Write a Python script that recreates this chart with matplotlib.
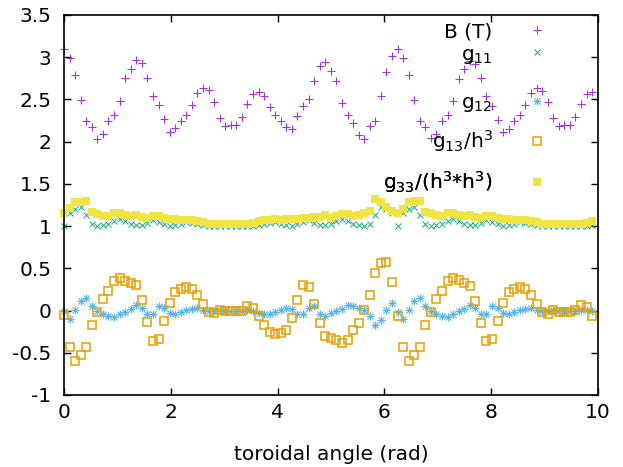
import numpy as np
import matplotlib
matplotlib.use('Agg')
import matplotlib.pyplot as plt

# sample index -> toroidal angle (96 samples, ~0.104 rad apart)
n_pts = 96
step = 0.1041
angle = np.arange(n_pts) * step

B = [3.10, 2.99, 2.79, 2.49, 2.24, 2.17, 2.03, 2.09, 2.24, 2.32,
     2.48, 2.75, 2.86, 2.97, 2.93, 2.75, 2.54, 2.43, 2.27, 2.12,
     2.16, 2.25, 2.32, 2.43, 2.58, 2.64, 2.61, 2.47, 2.28, 2.19,
     2.20, 2.20, 2.29, 2.45, 2.57, 2.59, 2.54, 2.41, 2.32, 2.25,
     2.17, 2.15, 2.30, 2.42, 2.50, 2.72, 2.90, 2.94, 2.84, 2.72,
     2.46, 2.32, 2.22, 2.08, 2.03, 2.19, 2.24, 2.54, 2.82, 3.02,
     3.10, 2.99, 2.79, 2.49, 2.24, 2.17, 2.04, 2.09, 2.24, 2.32,
     2.48, 2.74, 2.86, 2.96, 2.92, 2.75, 2.54, 2.42, 2.26, 2.12,
     2.15, 2.25, 2.32, 2.43, 2.58, 2.64, 2.60, 2.47, 2.28, 2.19,
     2.20, 2.20, 2.29, 2.45, 2.57, 2.59]

g11 = [1.00, 1.15, 1.20, 1.23, 1.13, 1.03, 1.00, 1.01, 1.03, 1.06,
       1.08, 1.06, 1.03, 1.01, 1.01, 1.04, 1.07, 1.05, 1.02, 1.00,
       1.01, 1.03, 1.05, 1.04, 1.03, 1.01, 1.00, 1.00, 1.00, 1.00,
       1.00, 1.00, 1.00, 1.00, 1.00, 1.01, 1.03, 1.04, 1.05, 1.03,
       1.01, 1.00, 1.02, 1.05, 1.07, 1.04, 1.01, 1.01, 1.03, 1.06,
       1.08, 1.06, 1.03, 1.01, 1.00, 1.03, 1.13, 1.23, 1.20, 1.15,
       1.00, 1.15, 1.20, 1.23, 1.13, 1.03, 1.00, 1.01, 1.03, 1.06,
       1.08, 1.06, 1.03, 1.01, 1.01, 1.04, 1.07, 1.05, 1.02, 1.00,
       1.01, 1.03, 1.05, 1.04, 1.03, 1.01, 1.00, 1.00, 1.00, 1.00,
       1.00, 1.00, 1.00, 1.00, 1.00, 1.01]

g12 = [-0.010, -0.095, 0.012, 0.115, 0.150, 0.055, -0.008, -0.043, -0.063, -0.071,
       -0.043, -0.016, 0.016, 0.063, 0.036, -0.043, -0.043, 0.050, 0.036, -0.028,
       -0.043, -0.020, 0.004, 0.024, 0.036, 0.012, -0.008, -0.004, 0.004, -0.004,
       -0.004, -0.004, -0.004, 0.004, -0.008, -0.028, -0.043, -0.036, -0.020, 0.012,
       0.036, 0.016, -0.036, -0.036, 0.036, 0.050, -0.043, -0.067, -0.028, -0.004,
       0.024, 0.063, 0.050, 0.036, 0.004, -0.063, -0.170, -0.115, 0.012, 0.095,
       -0.016, -0.100, 0.004, 0.110, 0.150, 0.055, -0.008, -0.043, -0.063, -0.071,
       -0.043, -0.008, 0.024, 0.071, 0.036, -0.043, -0.043, 0.050, 0.036, -0.028,
       -0.043, -0.020, 0.004, 0.024, 0.036, 0.012, -0.008, -0.004, 0.004, -0.004,
       -0.004, -0.004, -0.004, 0.004, 0.004, -0.008]

g13 = [-0.055, -0.43, -0.60, -0.53, -0.43, -0.17, -0.016, 0.14, 0.23, 0.35,
       0.38, 0.35, 0.33, 0.30, 0.12, -0.14, -0.36, -0.34, -0.12, 0.095,
       0.225, 0.26, 0.28, 0.26, 0.19, 0.083, -0.016, -0.028, 0.004, -0.008,
       -0.008, -0.008, -0.008, 0.05, 0.036, -0.067, -0.17, -0.25, -0.28, -0.27,
       -0.23, -0.09, 0.13, 0.30, 0.28, 0.075, -0.15, -0.30, -0.32, -0.35,
       -0.38, -0.35, -0.23, -0.15, 0.004, 0.18, 0.45, 0.56, 0.58, 0.34,
       -0.06, -0.43, -0.60, -0.53, -0.43, -0.17, -0.016, 0.14, 0.23, 0.35,
       0.38, 0.36, 0.33, 0.29, 0.11, -0.15, -0.36, -0.34, -0.12, 0.095,
       0.225, 0.26, 0.28, 0.26, 0.19, 0.083, -0.012, -0.036, 0.004, -0.016,
       -0.016, -0.016, 0.012, 0.063, 0.043, -0.063]

g33 = [1.16, 1.21, 1.28, 1.28, 1.30, 1.17, 1.14, 1.12, 1.12, 1.15,
       1.15, 1.13, 1.12, 1.13, 1.11, 1.10, 1.12, 1.12, 1.10, 1.09,
       1.08, 1.07, 1.07, 1.07, 1.06, 1.05, 1.03, 1.02, 1.02, 1.02,
       1.02, 1.02, 1.02, 1.02, 1.04, 1.06, 1.07, 1.07, 1.08, 1.07,
       1.08, 1.09, 1.09, 1.10, 1.10, 1.11, 1.11, 1.13, 1.10, 1.12,
       1.14, 1.14, 1.12, 1.13, 1.15, 1.18, 1.32, 1.29, 1.23, 1.18,
       1.15, 1.20, 1.29, 1.30, 1.30, 1.17, 1.15, 1.13, 1.12, 1.15,
       1.15, 1.13, 1.12, 1.13, 1.11, 1.10, 1.12, 1.12, 1.10, 1.09,
       1.08, 1.07, 1.07, 1.07, 1.06, 1.05, 1.03, 1.02, 1.02, 1.02,
       1.02, 1.02, 1.02, 1.02, 1.04, 1.06]

x_ticks = [0, 2, 4, 6, 8, 10]
y_ticks = [-1, -0.5, 0, 0.5, 1, 1.5, 2, 2.5, 3, 3.5]
y_tick_labels = ['-1', '-0.5', '0', '0.5', '1', '1.5', '2', '2.5', '3', '3.5']

labels = ['B (T)',
          r'$\mathregular{g_{11}}$',
          r'$\mathregular{g_{12}}$',
          r'$\mathregular{g_{13}/h^3}$',
          r'$\mathregular{g_{33}/(h^3{*}h^3)}$']

# gnuplot default palette
c_purple = '#9400d3'
c_green = '#009e73'
c_blue = '#56b4e9'
c_orange = '#e69f00'
c_yellow = '#f0e442'


def main():
    plt.rcParams['font.family'] = ['DejaVu Sans']
    fs = 14.5

    fig = plt.figure(figsize=(6.23, 4.67), dpi=100)
    W, H = 623, 467
    ax = fig.add_axes([64 / W, (H - 395) / H, (598 - 64) / W, (395 - 15) / H])

    ms = 5
    mew = 0.8
    kw = dict(ls='none', clip_on=False)
    h_B, = ax.plot(angle, B, marker='+', ms=ms + 1, mew=mew, color=c_purple, alpha=0.8, **kw)
    h_11, = ax.plot(angle, g11, marker='x', ms=ms, mew=mew, color=c_green, alpha=0.8, **kw)
    h_12a, = ax.plot(angle, g12, marker='+', ms=ms + 1, mew=mew, color=c_blue, **kw)
    h_12b, = ax.plot(angle, g12, marker='x', ms=ms, mew=mew, color=c_blue, **kw)
    h_13, = ax.plot(angle, g13, marker='s', ms=ms + 0.5, mew=1.1,
                    mfc='none', mec=c_orange, **kw)
    h_33, = ax.plot(angle, g33, marker='s', ms=ms + 0.8, mew=0,
                    color=c_yellow, **kw)

    ax.set_xlim(0, 10)
    ax.set_ylim(-1, 3.5)
    ax.set_xticks(x_ticks)
    ax.set_xticklabels([str(t) for t in x_ticks])
    ax.set_yticks(y_ticks)
    ax.set_yticklabels(y_tick_labels)
    ax.tick_params(direction='in', top=True, right=True, length=5, width=1,
                   labelsize=fs)
    ax.tick_params(axis='x', pad=6)
    ax.tick_params(axis='y', pad=9)
    for s in ax.spines.values():
        s.set_linewidth(1.2)
    ax.set_xlabel('toroidal angle (rad)', fontsize=fs, labelpad=16)

    # gnuplot-like key: label on the left, sample on the right, one row each
    handles = [h_B, h_11, (h_12a, h_12b), h_13, h_33]
    row_y = [32, 55, 104, 141, 182]
    for h, lab, yp in zip(handles, labels, row_y):
        leg = ax.legend([h], [lab], loc='center right',
                        bbox_to_anchor=((557 - 64) / 534, (395 - yp) / 380),
                        frameon=False, markerfirst=False, fontsize=fs,
                        handlelength=2.0, handletextpad=1.2,
                        borderpad=0, borderaxespad=0)
        ax.add_artist(leg)

    fig.savefig('out.png', dpi=100)


if __name__ == "__main__":
    main()
